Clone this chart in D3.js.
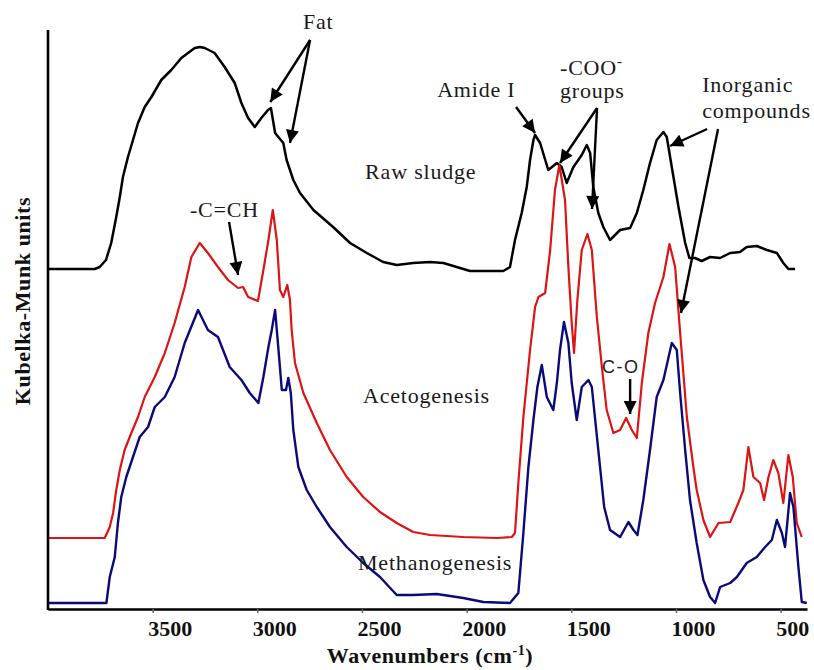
<!DOCTYPE html>
<html>
<head>
<meta charset="utf-8">
<script src="https://cdn.jsdelivr.net/npm/d3@7"></script>
<style>
  html, body { margin: 0; padding: 0; background: #fff; }
  svg { display: block; }
</style>
</head>
<body>
<script>
// DRIFT spectra of sludge at three digestion stages: [wavenumber (cm-1), Kubelka-Munk units]
const rawSludge = [
  [4000,339],[3777,339],[3753,341],[3723,348],[3698,365],[3674,391],[3657,411],[3642,431],
  [3618,451],[3594,468],[3570,485],[3538,501],[3506,511],[3459,528],[3411,538],[3363,550],
  [3299,560],[3274,561],[3251,560],[3204,555],[3156,541],[3108,525],[3076,505],[3044,490],
  [3012,481],[2981,490],[2949,498],[2935,500],[2915,475],[2876,465],[2860,448],[2828,428],
  [2796,415],[2732,398],[2638,381],[2557,365],[2477,355],[2399,346],[2334,343],[2256,345],
  [2175,346],[2111,345],[1984,337],[1825,337],[1793,341],[1769,368],[1737,395],[1713,421],
  [1697,448],[1681,468],[1673,473],[1649,465],[1610,438],[1569,445],[1546,441],[1522,425],
  [1490,441],[1450,453],[1426,463],[1410,455],[1395,421],[1371,395],[1347,381],[1315,368],
  [1267,378],[1219,380],[1187,395],[1156,418],[1124,445],[1092,468],[1060,476],[1044,471],
  [1020,441],[988,401],[956,365],[936,350],[909,350],[877,347],[837,351],[789,350],
  [741,355],[694,356],[662,361],[614,362],[566,358],[518,355],[487,345],[463,339],[431,339]
];

const acetogenesis = [
  [4000,70],[3729,70],[3705,81],[3689,95],[3674,118],[3657,138],[3634,158],[3602,175],
  [3570,191],[3538,211],[3490,231],[3442,255],[3395,285],[3347,321],[3315,351],[3275,365],
  [3236,355],[3188,341],[3140,328],[3092,320],[3068,321],[3044,311],[2997,307],[2971,338],
  [2947,368],[2926,398],[2907,368],[2892,318],[2876,311],[2857,323],[2844,308],[2836,278],
  [2820,245],[2780,215],[2716,185],[2653,158],[2573,131],[2494,111],[2414,96],[2334,85],
  [2255,76],[2175,73],[2016,71],[1856,70],[1784,71],[1769,75],[1753,125],[1729,191],
  [1697,258],[1673,301],[1657,311],[1625,315],[1601,358],[1578,418],[1557,443],[1530,408],
  [1514,341],[1498,285],[1487,255],[1471,308],[1450,358],[1423,374],[1402,358],[1378,291],
  [1354,241],[1331,198],[1299,175],[1267,178],[1238,190],[1211,178],[1187,170],[1163,225],
  [1132,275],[1100,305],[1060,331],[1031,364],[1004,341],[980,275],[948,191],[917,141],
  [901,118],[869,88],[837,71],[797,85],[741,86],[702,105],[678,118],[654,161],
  [630,131],[598,125],[579,108],[558,131],[535,148],[511,135],[487,105],[463,153],
  [442,131],[423,85],[399,71]
];

const methanogenesis = [
  [4000,5],[3721,5],[3705,31],[3681,51],[3666,85],[3650,111],[3626,131],[3594,151],
  [3562,171],[3522,181],[3490,201],[3442,211],[3395,231],[3347,265],[3283,298],[3236,278],
  [3188,271],[3132,241],[3076,228],[3036,215],[2995,205],[2971,231],[2947,261],[2931,278],
  [2915,298],[2900,261],[2883,218],[2863,218],[2852,230],[2840,215],[2828,178],[2804,141],
  [2764,118],[2716,101],[2653,81],[2573,61],[2494,45],[2414,31],[2334,13],[2255,13],
  [2143,14],[2016,10],[1920,6],[1793,5],[1753,15],[1729,75],[1705,141],[1681,188],
  [1662,221],[1641,243],[1617,211],[1586,198],[1569,225],[1554,258],[1535,286],[1514,265],
  [1498,225],[1474,188],[1450,221],[1418,228],[1402,221],[1371,158],[1343,101],[1315,78],
  [1267,71],[1227,86],[1203,78],[1184,73],[1156,108],[1124,158],[1092,211],[1060,228],
  [1020,265],[996,258],[980,215],[956,158],[933,108],[901,65],[869,28],[837,11],
  [813,5],[789,21],[741,25],[709,31],[662,45],[614,51],[574,61],[542,68],
  [518,88],[494,75],[479,61],[455,115],[439,101],[415,41],[399,6],[375,5]
];

const xTicks = [3500, 3000, 2500, 2000, 1500, 1000, 500];

// Curve labels and band assignments, anchored in data coordinates
const curveLabels = [
  { text: "Raw sludge",     w: 2485, v: 429 },
  { text: "Acetogenesis",   w: 2495, v: 205 },
  { text: "Methanogenesis", w: 2519, v: 38 }
];
const bandLabels = [
  { text: "Fat",       w: 2782, v: 579 },
  { text: "Amide I",   w: 2141, v: 511 },
  { text: "groups",    w: 1554, v: 510 },
  { text: "Inorganic", w: 875,  v: 516 },
  { text: "compounds", w: 875,  v: 490 },
  { text: "-C=CH",     w: 3322, v: 391 }
];
// Arrows: from [w, v] to [w, v]
const arrows = [
  [[2748,568],[2938,506]],
  [[2748,568],[2844,465]],
  [[3135,386],[3092,333]],
  [[1764,501],[1673,475]],
  [[1377,500],[1554,445]],
  [[1377,500],[1401,399]],
  [[851,479],[1028,462]],
  [[799,479],[976,295]],
  [[1219,229],[1219,194]]
];

const W = 814, H = 670;
const svg = d3.select("body").append("svg")
  .attr("width", W).attr("height", H)
  .style("background", "#fff");

const x = d3.scaleLinear().domain([4000, 374]).range([48, 807]);
const y = d3.scaleLinear().domain([0, 578]).range([608, 30]);

const serif = "'Liberation Serif', 'Times New Roman', serif";

// Spectra
const line = d3.line().x(d => x(d[0])).y(d => y(d[1]));
const series = [
  { data: rawSludge,      color: "#000000", width: 2.5 },
  { data: acetogenesis,   color: "#dc1414", width: 2.2 },
  { data: methanogenesis, color: "#0a0a78", width: 2.4 }
];
svg.append("g").selectAll("path").data(series).join("path")
  .attr("d", d => line(d.data))
  .attr("fill", "none")
  .attr("stroke", d => d.color)
  .attr("stroke-width", d => d.width)
  .attr("stroke-linejoin", "round");

// Axes
const xAxis = svg.append("g")
  .attr("transform", "translate(0,609)")
  .call(d3.axisBottom(x).tickValues(xTicks).tickSize(4).tickSizeOuter(0).tickFormat(d3.format("d")));
xAxis.select(".domain").attr("stroke", "#000").attr("stroke-width", 2.6);
xAxis.selectAll(".tick line").attr("stroke", "#666").attr("stroke-width", 1.5);
xAxis.selectAll(".tick text")
  .attr("y", 27).attr("dy", 0).attr("dx", -5)
  .attr("text-anchor", "start")
  .attr("fill", "#111")
  .style("font-family", serif).style("font-weight", "bold").style("font-size", "22px");

const yAxis = svg.append("g")
  .attr("transform", "translate(48,0)")
  .call(d3.axisLeft(y).tickValues([]).tickSizeOuter(0));
yAxis.select(".domain").attr("stroke", "#000").attr("stroke-width", 2.6)
  .attr("d", `M0,${y(578)}V610`);

// Axis titles
const xt = svg.append("text")
  .attr("x", 430).attr("y", 663)
  .attr("text-anchor", "middle")
  .attr("fill", "#111")
  .style("font-family", serif).style("font-weight", "bold").style("font-size", "22px")
  .style("letter-spacing", "0.6px");
xt.append("tspan").text("Wavenumbers (cm");
xt.append("tspan").attr("dy", -8).style("font-size", "14px").text("-1");
xt.append("tspan").attr("dy", 8).text(")");

svg.append("text")
  .attr("transform", "translate(30,301) rotate(-90)")
  .attr("text-anchor", "middle")
  .attr("fill", "#111")
  .style("font-family", serif).style("font-weight", "bold").style("font-size", "22px")
  .style("letter-spacing", "0.6px")
  .text("Kubelka-Munk units");

// Arrow heads
svg.append("defs").append("marker")
  .attr("id", "head")
  .attr("viewBox", "0 0 10 10")
  .attr("refX", 10).attr("refY", 5)
  .attr("markerWidth", 15).attr("markerHeight", 13)
  .attr("markerUnits", "userSpaceOnUse")
  .attr("orient", "auto")
  .append("path").attr("d", "M0,0L10,5L0,10z").attr("fill", "#000");

svg.append("g").selectAll("line").data(arrows).join("line")
  .attr("x1", d => x(d[0][0])).attr("y1", d => y(d[0][1]))
  .attr("x2", d => x(d[1][0])).attr("y2", d => y(d[1][1]))
  .attr("stroke", "#000").attr("stroke-width", 2.4)
  .attr("marker-end", "url(#head)");

// Labels
const labelStyle = sel => sel
  .attr("fill", "#1a1a1a")
  .style("font-family", serif).style("font-size", "22px").style("letter-spacing", "0.8px");

svg.append("g").selectAll("text").data(curveLabels.concat(bandLabels)).join("text")
  .attr("x", d => x(d.w)).attr("y", d => y(d.v))
  .text(d => d.text)
  .call(labelStyle);

// Carboxylate label with superscript charge
const coo = svg.append("text")
  .attr("x", x(1554)).attr("y", y(533))
  .call(labelStyle);
coo.append("tspan").text("-COO");
coo.append("tspan").attr("dy", -9).style("font-size", "15px").text("-");

svg.append("text")
  .attr("x", x(1353)).attr("y", y(235))
  .attr("fill", "#222")
  .style("font-family", "'Liberation Sans', Arial, sans-serif")
  .style("font-size", "18px").style("letter-spacing", "1.5px")
  .text("C-O");
</script>
</body>
</html>
